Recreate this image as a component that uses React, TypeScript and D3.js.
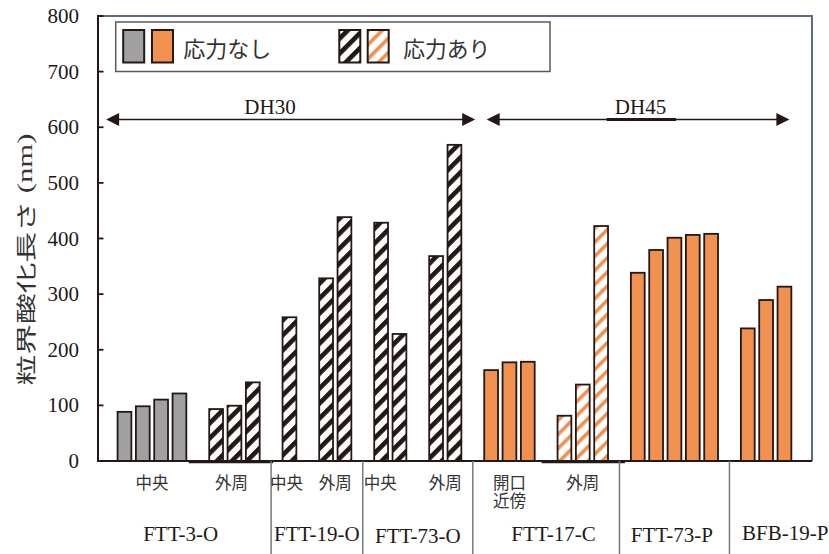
import React from "react";
import * as d3 from "d3";

// ---------- data ----------
const groupNames = ["FTT-3-O", "FTT-19-O", "FTT-73-O", "FTT-17-C", "FTT-73-P", "BFB-19-P"];

const ftt3Center = [90, 100, 112, 123];
const ftt3Outer = [95, 101, 143];
const ftt19Center = [260];
const ftt19Outer = [330, 440];
const ftt73OCenter = [430, 230];
const ftt73OOuter = [370, 570];
const ftt17Opening = [165, 179, 180];
const ftt17Outer = [83, 139, 424];
const ftt73P = [340, 381, 403, 408, 410];
const bfb19P = [240, 291, 315];

const subgroups = [
  { group: 0, label: ["中央"], values: ftt3Center, kind: "gray", stressed: false },
  { group: 0, label: ["外周"], values: ftt3Outer, kind: "black", stressed: true },
  { group: 1, label: ["中央"], values: ftt19Center, kind: "black", stressed: true },
  { group: 1, label: ["外周"], values: ftt19Outer, kind: "black", stressed: true },
  { group: 2, label: ["中央"], values: ftt73OCenter, kind: "black", stressed: true },
  { group: 2, label: ["外周"], values: ftt73OOuter, kind: "black", stressed: true },
  { group: 3, label: ["開口", "近傍"], values: ftt17Opening, kind: "orange", stressed: false },
  { group: 3, label: ["外周"], values: ftt17Outer, kind: "orange", stressed: true },
  { group: 4, label: [], values: ftt73P, kind: "orange", stressed: false },
  { group: 5, label: [], values: bfb19P, kind: "orange", stressed: false },
];

const yTicks = [0, 100, 200, 300, 400, 500, 600, 700, 800];
const legendNoStress = "応力なし";
const legendStress = "応力あり";
const yLabel = "粒界酸化長さ";
const yUnit = " (nm)";
const rangeLabels = ["DH30", "DH45"];

// ---------- layout ----------
const W = 829;
const H = 554;
const axisX = 98;
const plotRight = 812;
const plotTop = 16;
const plotBottom = 461;
const barW = 15.6;
const subLabelShift = [0, -3, -3, 0, -10, 0, 0, 0, 0, 0];
const groupLabelSlot = [3.07, 10.49, 16.0, 23.4, 29.86, 36.04];
const groupLabelY = [541, 541, 543, 541, 542, 540];
const arrowSlots = [[-1.0, 19.13], [19.76, 36.27]];
const thickBaseSubs = [
  { sub: 1, dl: -9, dr: 2 },
  { sub: 7, dl: -4.5, dr: 5.5 },
];

const COL = {
  gray: "#a0a0a0",
  orange: "#f0914f",
  stroke: "#231815",
  frame: "#5c6b86",
  sep: "#7a7a7a",
};

// assign slots
type Bar = { slot: number; value: number; kind: string; stressed: boolean };
const bars: Bar[] = [];
const subInfo: { first: number; last: number }[] = [];
const groupEnds: number[] = [];
{
  let slot = 0;
  subgroups.forEach((sg, i) => {
    const first = slot;
    sg.values.forEach((v) => {
      bars.push({ slot, value: v, kind: sg.kind, stressed: sg.stressed });
      slot++;
    });
    subInfo.push({ first, last: slot - 1 });
    const next = subgroups[i + 1];
    if (next && next.group !== sg.group) groupEnds.push(slot);
    slot++;
  });
}

const x = d3.scaleLinear().domain([0, 36]).range([124.45, 784.45]);
const y = d3.scaleLinear().domain([0, 800]).range([plotBottom, plotTop]);

function fillFor(kind: string, stressed: boolean) {
  if (kind === "gray") return COL.gray;
  if (kind === "orange") return stressed ? "url(#hatchOrange)" : COL.orange;
  return "url(#hatchBlack)";
}

function Arrow({ x1, x2, yy }: { x1: number; x2: number; yy: number }) {
  const L = 13, h = 6.5;
  return (
    <g>
      <line x1={x1 + L - 1} x2={x2 - L + 1} y1={yy} y2={yy} stroke={COL.stroke} strokeWidth={1.5} />
      <path d={`M${x1},${yy} L${x1 + L},${yy - h} L${x1 + L},${yy + h} Z`} fill={COL.stroke} />
      <path d={`M${x2},${yy} L${x2 - L},${yy - h} L${x2 - L},${yy + h} Z`} fill={COL.stroke} />
    </g>
  );
}

export default function App() {
  const serif = "Liberation Serif, Times New Roman, serif";
  const jp = "Noto Sans CJK JP, Noto Sans, sans-serif";
  const arrowY = 119.5;
  return (
    <svg width={W} height={H} style={{ position: "absolute", left: 0, top: 0, background: "#fff" }}>
      <defs>
        <pattern id="hatchBlack" patternUnits="userSpaceOnUse" width={10.6} height={10.6} patternTransform="rotate(45)">
          <rect width={10.6} height={10.6} fill="#fff" />
          <rect width={4.7} height={10.6} fill={COL.stroke} />
        </pattern>
        <pattern id="hatchOrange" patternUnits="userSpaceOnUse" width={10} height={10} patternTransform="rotate(45)">
          <rect width={10} height={10} fill="#fff" />
          <rect width={3.6} height={10} fill={COL.orange} />
        </pattern>
      </defs>
      <rect width={W} height={H} fill="#fff" />

      {/* frame top/right */}
      <path d={`M${axisX},${plotTop} L${plotRight},${plotTop} L${plotRight},${plotBottom}`} fill="none" stroke={COL.frame} strokeWidth={2} />

      {/* legend */}
      <rect x={115.7} y={22} width={434.3} height={49.5} fill="#fff" stroke="#5a5a5a" strokeWidth={1.5} />
      <rect x={123.2} y={30} width={21} height={32.5} fill={COL.gray} stroke={COL.stroke} strokeWidth={2} />
      <rect x={152} y={30} width={21} height={32.5} fill={COL.orange} stroke={COL.stroke} strokeWidth={2} />
      <text x={183.3} y={47} dominantBaseline="central" fontFamily={jp} fontSize={22} fill="#333" textLength={88} lengthAdjust="spacingAndGlyphs">{legendNoStress}</text>
      <rect x={339.3} y={30} width={21} height={32.5} fill="url(#hatchBlack)" stroke={COL.stroke} strokeWidth={2} />
      <rect x={367.7} y={30} width={21} height={32.5} fill="url(#hatchOrange)" stroke={COL.stroke} strokeWidth={2} />
      <text x={403.3} y={47} dominantBaseline="central" fontFamily={jp} fontSize={22} fill="#333" textLength={87} lengthAdjust="spacingAndGlyphs">{legendStress}</text>

      {/* range arrows */}
      <Arrow x1={x(arrowSlots[0][0])} x2={x(arrowSlots[0][1])} yy={arrowY} />
      <Arrow x1={x(arrowSlots[1][0])} x2={x(arrowSlots[1][1])} yy={arrowY} />
      <text x={270} y={114} textAnchor="middle" fontFamily={serif} fontSize={21} fill={COL.stroke}>{rangeLabels[0]}</text>
      <text x={640.5} y={113.5} textAnchor="middle" fontFamily={serif} fontSize={21} fill={COL.stroke}>{rangeLabels[1]}</text>
      <line x1={606.7} x2={676} y1={arrowY} y2={arrowY} stroke={COL.stroke} strokeWidth={3.2} />

      {/* bars */}
      {bars.map((b, i) => (
        <rect key={i} x={x(b.slot) - barW / 2 + 0.9} width={barW - 1.8} y={y(b.value) + 0.9} height={y(0) - y(b.value) - 0.9}
          fill={fillFor(b.kind, b.stressed)} stroke={COL.stroke} strokeWidth={1.8} />
      ))}

      {/* baseline */}
      <line x1={axisX} x2={plotRight} y1={plotBottom} y2={plotBottom} stroke={COL.stroke} strokeWidth={2} />
      {thickBaseSubs.map((t) => (
        <line key={t.sub} x1={x(subInfo[t.sub].first - 1) + t.dl} x2={x(subInfo[t.sub].last + 1) + t.dr}
          y1={plotBottom + 0.8} y2={plotBottom + 0.8} stroke={COL.stroke} strokeWidth={3} />
      ))}

      {/* y axis */}
      <line x1={axisX} x2={axisX} y1={plotTop - 1} y2={plotBottom + 1} stroke={COL.stroke} strokeWidth={2} />
      {yTicks.map((t) => (
        <g key={t}>
          <line x1={axisX} x2={axisX + 5.5} y1={y(t)} y2={y(t)} stroke={COL.stroke} strokeWidth={1.8} />
          <text x={79} y={y(t)} textAnchor="end" dominantBaseline="central" fontFamily={serif} fontSize={21} fill={COL.stroke}>{t}</text>
        </g>
      ))}
      <g transform={`translate(25,259.5) rotate(-90) scale(1.5,1)`}>
        <text x={0} y={0} textAnchor="middle" dominantBaseline="central" fontSize={20.5} fill="#333">
          <tspan fontFamily={jp}>{yLabel}</tspan>
          <tspan fontFamily={serif}>{yUnit}</tspan>
        </text>
      </g>

      {/* separators */}
      {groupEnds.map((s, i) => (
        <line key={i} x1={x(s)} x2={x(s)} y1={plotBottom} y2={H} stroke={COL.sep} strokeWidth={1.5} />
      ))}

      {/* sub labels */}
      {subgroups.map((sg, i) => {
        if (sg.label.length === 0) return null;
        const cx = (x(subInfo[i].first) + x(subInfo[i].last)) / 2 + subLabelShift[i];
        return (
          <text key={i} x={cx} y={481.5} textAnchor="middle" dominantBaseline="central" fontFamily={jp} fontSize={16.5} fill="#333">
            {sg.label.map((l, j) => (
              <tspan key={j} x={cx} dy={j === 0 ? 0 : 18.5}>{l}</tspan>
            ))}
          </text>
        );
      })}

      {/* group labels */}
      {groupNames.map((g, i) => (
        <text key={g} x={x(groupLabelSlot[i])} y={groupLabelY[i]} textAnchor="middle" fontFamily={serif} fontSize={21} fill={COL.stroke}>{g}</text>
      ))}
    </svg>
  );
}
